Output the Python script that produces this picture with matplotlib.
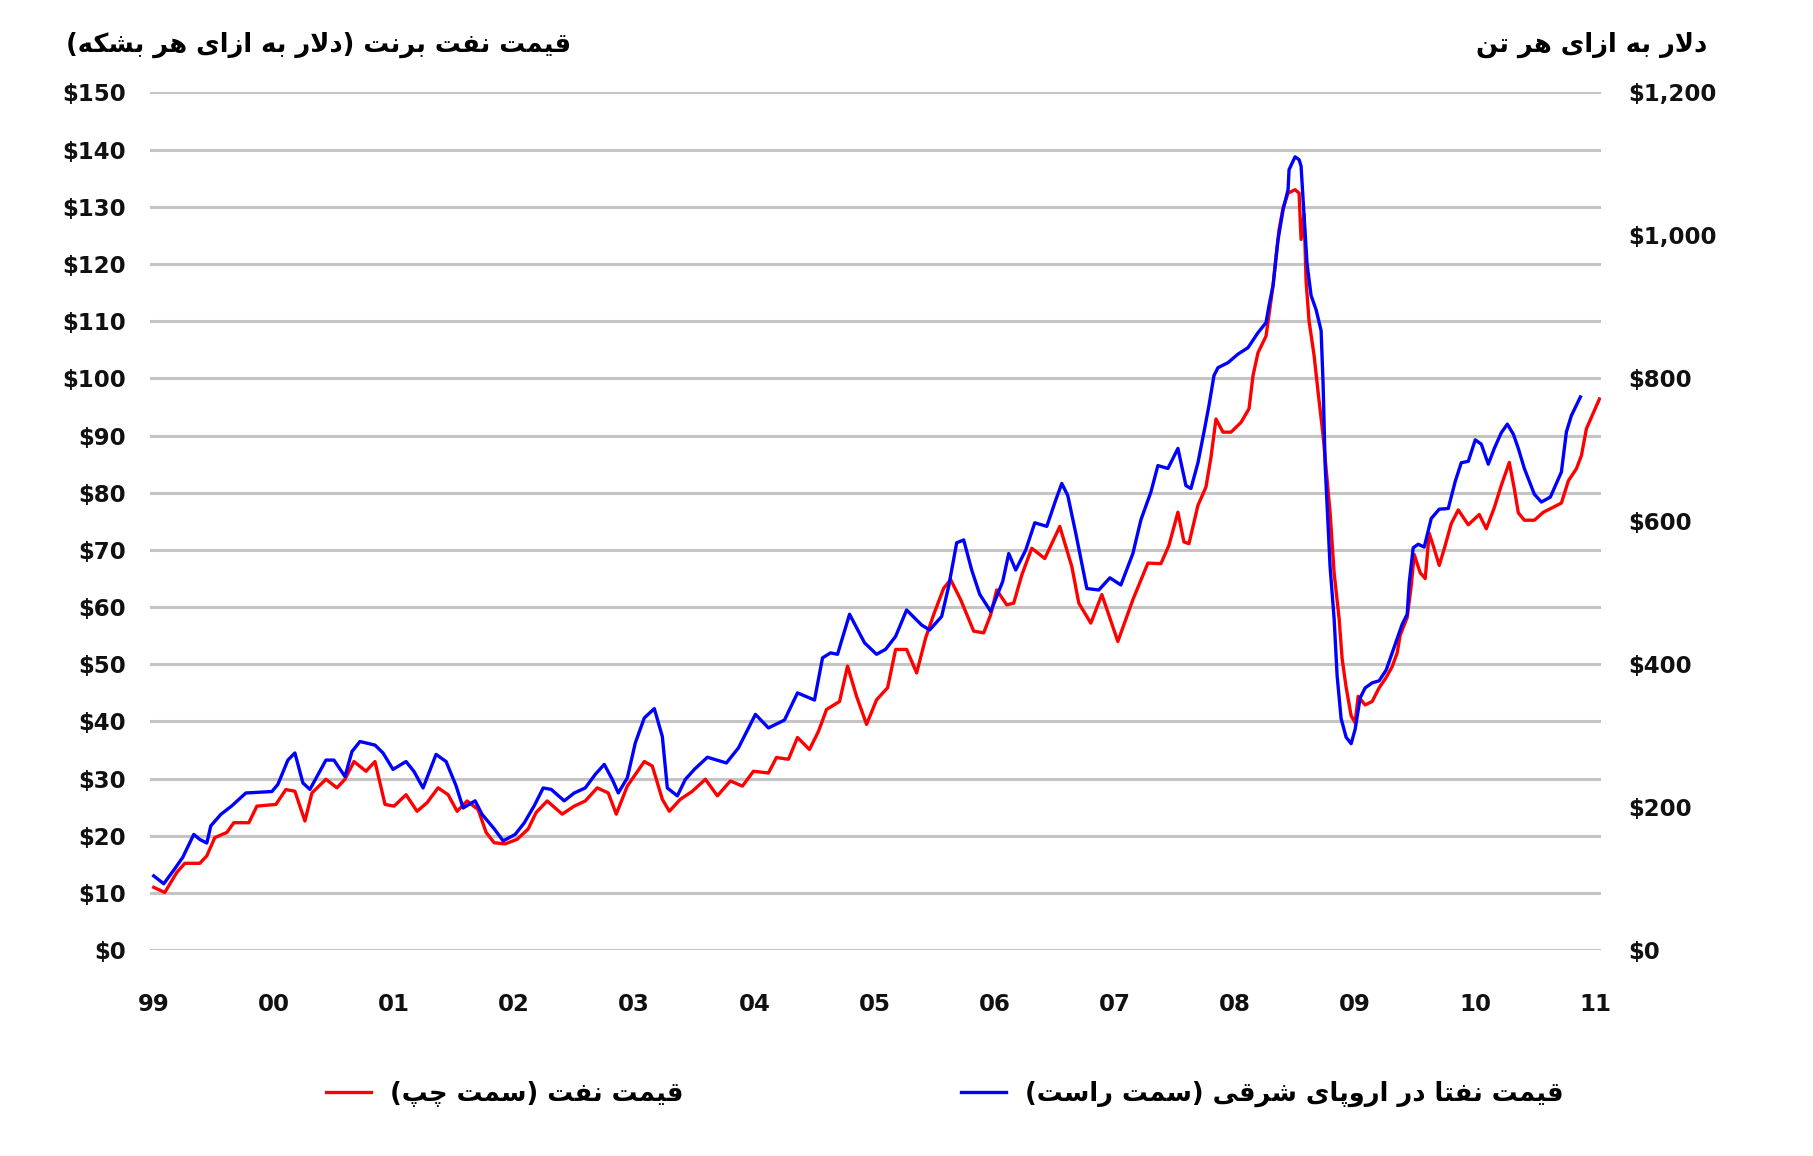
import numpy as np
import matplotlib
matplotlib.use('Agg')
import matplotlib.pyplot as plt

# months counted from Jan 1999
red_month = [0, 1.1, 2.3, 3.1, 4.6, 5.3, 6.1, 7.3, 8.0, 9.5, 10.3, 12.2, 13.2, 14.1, 15.1, 15.8,
             17.2, 18.3, 19.1, 20.0, 21.2, 22.1, 23.1, 24.0, 25.2, 26.3, 27.3, 28.4, 29.4, 30.3,
             31.3, 32.4, 33.2, 34.0, 35.1, 36.3, 37.4, 38.2, 39.3, 40.8, 42.0, 43.1, 44.3, 45.4,
             46.2, 47.3, 49.0, 49.8, 50.8, 51.5, 52.6, 53.8, 55.1, 56.3, 57.6, 58.8, 59.9, 61.4,
             62.2, 63.4, 64.3, 65.5, 66.4, 67.2, 68.5, 69.3, 70.2, 71.2, 72.2, 73.3, 74.1, 75.2,
             76.2, 77.1, 77.9, 78.9, 79.6, 80.6, 81.9, 82.9, 83.6, 84.2, 85.2, 85.9, 86.7, 87.7,
             89.0, 90.5, 91.7, 92.4, 93.6, 94.7, 96.3, 97.8, 99.3, 100.6, 101.4, 102.3, 102.9,
             103.4, 104.3, 105.1, 105.6, 106.1, 106.8, 107.6, 108.6, 109.4, 109.8, 110.3, 111.1,
             111.8, 112.1, 112.4, 112.8, 113.3, 114.0, 114.4, 114.6, 114.9, 115.1, 115.4, 115.9,
             116.3, 116.8, 117.5, 117.9, 118.4, 118.7, 119.1, 119.6, 120.0, 120.3, 121.0, 121.7,
             122.4, 123.1, 123.7, 124.2, 124.5, 125.2, 125.6, 125.9, 126.5, 127.0, 127.4, 127.9,
             128.4, 128.9, 129.6, 130.3, 131.3, 132.4, 133.1, 133.9, 134.6, 135.4, 135.9, 136.3,
             136.9, 137.9, 138.8, 139.6, 140.6, 141.3, 142.1, 142.6, 143.1, 144.4]
# Brent, $ per barrel (left axis)
red_price = [11.0, 10.1, 13.6, 15.2, 15.2, 16.5, 19.7, 20.6, 22.3, 22.3, 25.2, 25.5, 28.1, 27.8, 22.6, 27.5,
             29.9, 28.4, 29.9, 33.0, 31.3, 33.0, 25.5, 25.2, 27.2, 24.3, 25.8, 28.4, 27.2, 24.3,
             26.1, 24.6, 20.6, 18.8, 18.6, 19.4, 21.2, 24.1, 26.1, 23.8, 25.2, 26.1, 28.4, 27.5,
             23.8, 28.7, 33.0, 32.2, 26.4, 24.3, 26.4, 27.8, 29.9, 27.0, 29.6, 28.7, 31.3, 31.0,
             33.7, 33.4, 37.2, 35.1, 38.3, 42.1, 43.5, 49.7, 44.4, 39.5, 43.8, 45.9, 52.6, 52.6,
             48.5, 54.6, 58.7, 63.3, 64.8, 61.3, 55.8, 55.5, 58.7, 63.0, 60.4, 60.7, 65.6, 70.3,
             68.5, 74.1, 67.1, 60.7, 57.2, 62.2, 54.0, 61.3, 67.7, 67.6, 70.8, 76.6, 71.4,
             71.1, 77.8, 81.0, 86.2, 92.9, 90.6, 90.6, 92.3, 94.7, 100.5, 104.5, 107.4,
             116.2, 121.4, 126.0, 129.8, 132.4, 133.0, 132.4, 124.3, 128.7, 117.0, 110.0, 104.0,
             97.6, 90.0, 76.5, 66.0, 58.0, 51.0, 46.0, 41.0, 39.8, 44.4, 42.9, 43.5,
             45.9, 47.7, 49.6, 52.0, 55.1, 58.2, 63.7, 69.2, 66.0, 65.0, 72.9, 70.2,
             67.3, 70.2, 74.6, 77.0, 74.4, 76.2, 73.7, 77.4, 81.3, 85.3, 80.7, 76.5,
             75.2, 75.2, 76.6, 77.3, 78.2, 82.1, 84.2, 86.5, 91.2, 96.4]

blue_month = [0, 1.0, 2.1, 2.9, 4.0, 4.6, 5.3, 5.7, 6.7, 7.8, 9.2, 11.8, 12.4, 13.4, 14.1, 14.9, 15.6,
              17.2, 18.0, 19.1, 19.8, 20.6, 22.1, 22.9, 23.9, 25.2, 26.0, 26.9, 28.2, 29.2, 30.2,
              30.9, 32.1, 32.8, 34.0, 34.9, 36.1, 37.0, 38.0, 38.9, 39.7, 41.0, 42.0, 43.1, 44.1,
              45.0, 45.8, 46.4, 47.3, 48.1, 49.0, 50.0, 50.8, 51.3, 52.3, 53.1, 54.0, 55.3, 57.2,
              58.4, 60.1, 61.4, 63.0, 64.3, 66.0, 66.8, 67.6, 68.3, 69.5, 71.0, 72.2, 73.1, 74.1,
              75.2, 76.7, 77.5, 78.7, 79.4, 80.2, 80.9, 81.7, 82.5, 83.6, 84.8, 85.4, 86.1, 87.1,
              88.0, 89.2, 90.1, 90.7, 91.3, 92.1, 93.2, 94.4, 95.5, 96.6, 97.8, 98.6, 99.6, 100.3,
              101.3, 102.3, 103.1, 103.6, 104.3, 104.9, 105.4, 105.9, 106.3, 107.3, 108.3, 109.3,
              110.3, 111.1, 111.4, 111.8, 112.3, 112.8, 113.3, 113.4, 114.0, 114.4, 114.6, 114.9,
              115.2, 115.6, 116.1, 116.6, 116.8, 117.0, 117.5, 117.9, 118.2, 118.6, 119.1, 119.6,
              120.0, 120.5, 121.0, 121.7, 122.4, 123.1, 123.7, 124.2, 124.7, 125.2, 125.4, 125.8,
              126.3, 126.9, 127.6, 128.4, 129.3, 130.0, 130.6, 131.3, 132.0, 132.6, 133.3, 133.9,
              134.6, 135.2, 135.8, 136.3, 136.9, 137.9, 138.6, 139.5, 140.6, 141.1, 141.6, 142.5]
# naphtha NW Europe, $ per ton (right axis)
blue_price = [104, 93, 114, 130, 162, 155, 150, 174, 190, 202, 220, 222, 232, 266, 276, 234, 225,
              266, 266, 243, 278, 292, 287, 276, 253, 264, 250, 227, 274, 264, 230,
              199, 209, 190, 170, 153, 162, 178, 202, 227, 225, 209, 220, 227, 246,
              260, 239, 220, 241, 290, 325, 338, 299, 227, 216, 239, 253, 270, 262,
              283, 330, 311, 322, 360, 350, 409, 416, 414, 470, 430, 414, 421, 439,
              476, 455, 448, 467, 509, 570, 574, 532, 498, 474, 516, 555, 532, 560,
              598, 593, 630, 653, 636, 583, 506, 504, 521, 511, 555, 602, 641, 678,
              674, 702, 650, 646, 682, 725, 762, 804, 815, 822, 834, 843,
              864, 878, 902, 930, 994, 1036, 1064, 1092, 1110, 1106, 1097, 1027,
              960, 916, 896, 867, 792, 680, 536, 464, 384, 324, 298, 289,
              309, 353, 367, 374, 377, 392, 416, 436, 456, 470, 514, 563,
              568, 564, 604, 617, 618, 656, 682, 684, 714, 708, 680, 702,
              724, 736, 722, 702, 674, 638, 627, 634, 669, 725, 748, 774]

year_labels = ['99', '00', '01', '02', '03', '04', '05', '06', '07', '08', '09', '10', '11']
left_ticks = list(range(0, 151, 10))
right_ticks = list(range(0, 1201, 200))

title_left = 'قیمت نفت برنت (دلار به ازای هر بشکه)'
title_right = 'دلار به ازای هر تن'
label_red = 'قیمت نفت (سمت چپ)'
label_blue = 'قیمت نفتا در اروپای شرقی (سمت راست)'

# arabic/persian letters: isolated, final, initial, medial
FORMS = {
    'ا': ('\uFE8D', '\uFE8E', None, None),
    'ب': ('\uFE8F', '\uFE90', '\uFE91', '\uFE92'),
    'پ': ('\uFB56', '\uFB57', '\uFB58', '\uFB59'),
    'ت': ('\uFE95', '\uFE96', '\uFE97', '\uFE98'),
    'د': ('\uFEA9', '\uFEAA', None, None),
    'ر': ('\uFEAD', '\uFEAE', None, None),
    'ز': ('\uFEAF', '\uFEB0', None, None),
    'س': ('\uFEB1', '\uFEB2', '\uFEB3', '\uFEB4'),
    'ش': ('\uFEB5', '\uFEB6', '\uFEB7', '\uFEB8'),
    'ف': ('\uFED1', '\uFED2', '\uFED3', '\uFED4'),
    'ق': ('\uFED5', '\uFED6', '\uFED7', '\uFED8'),
    'ک': ('\uFB8E', '\uFB8F', '\uFB90', '\uFB91'),
    'ل': ('\uFEDD', '\uFEDE', '\uFEDF', '\uFEE0'),
    'م': ('\uFEE1', '\uFEE2', '\uFEE3', '\uFEE4'),
    'ن': ('\uFEE5', '\uFEE6', '\uFEE7', '\uFEE8'),
    'ه': ('\uFEE9', '\uFEEA', '\uFEEB', '\uFEEC'),
    'و': ('\uFEED', '\uFEEE', None, None),
    'ی': ('\uFBFC', '\uFBFD', '\uFBFE', '\uFBFF'),
    'چ': ('\uFB7A', '\uFB7B', '\uFB7C', '\uFB7D'),
}


def rtl(text):
    # shape letters and reverse to visual order (matplotlib has no bidi)
    out = []
    n = len(text)
    i = 0
    while i < n:
        c = text[i]
        if c not in FORMS:
            out.append(c)
            i += 1
            continue
        prev = text[i - 1] if i > 0 else None
        join_prev = prev in FORMS and FORMS[prev][2] is not None
        if c == 'ل' and i + 1 < n and text[i + 1] == 'ا':
            out.append('\uFEFC' if join_prev else '\uFEFB')
            i += 2
            continue
        nxt = text[i + 1] if i + 1 < n else None
        join_next = FORMS[c][2] is not None and nxt in FORMS
        iso, fin, ini, med = FORMS[c]
        if join_prev and join_next:
            out.append(med)
        elif join_prev:
            out.append(fin)
        elif join_next:
            out.append(ini)
        else:
            out.append(iso)
        i += 1
    return ''.join(out)[::-1].translate(str.maketrans('()', ')('))


plt.rcParams['font.family'] = ['DejaVu Sans']
plt.rcParams['font.weight'] = 'bold'

fig = plt.figure(figsize=(18.13, 11.56), dpi=100)
ax = fig.add_axes([0.0827, 0.178, 0.8006, 0.742])
ax2 = ax.twinx()

ax.plot(red_month, red_price, color='#ff0000', lw=2.4, label=rtl(label_red))
ax2.plot(blue_month, blue_price, color='#0000ff', lw=2.4, label=rtl(label_blue))

ax.set_xlim(-0.38, 144.6)
ax.set_ylim(0, 150)
ax2.set_ylim(0, 1200)

ax.set_yticks(left_ticks)
ax.set_yticklabels(['$%d' % v for v in left_ticks])
ax2.set_yticks(right_ticks)
ax2.set_yticklabels(['${:,}'.format(v) for v in right_ticks])
ax.set_xticks(np.arange(0, 145, 12))
ax.set_xticklabels(year_labels)

ax.grid(axis='y', color='#c4c4c4', lw=2.2)
ax.set_axisbelow(True)
for a in (ax, ax2):
    for s in a.spines.values():
        s.set_visible(False)
ax.tick_params(axis='both', length=0, labelsize=16.5, colors='#111111')
ax.tick_params(axis='y', pad=17)
ax.tick_params(axis='x', pad=31)
ax2.tick_params(axis='y', length=0, labelsize=16.5, colors='#111111', pad=19)

fig.text(0.1754, 0.961, rtl(title_left), ha='center', va='center', fontsize=18.5, fontweight='bold')
fig.text(0.878, 0.961, rtl(title_right), ha='center', va='center', fontsize=18.5, fontweight='bold')

h1, l1 = ax.get_legend_handles_labels()
h2, l2 = ax2.get_legend_handles_labels()
fig.legend(h1 + h2, l1 + l2, loc='center', bbox_to_anchor=(0.521, 0.0536), ncol=2,
           frameon=False, fontsize=18.5, handlelength=1.75, handletextpad=0.75, columnspacing=10.8)

fig.savefig('out.png', dpi=100)
